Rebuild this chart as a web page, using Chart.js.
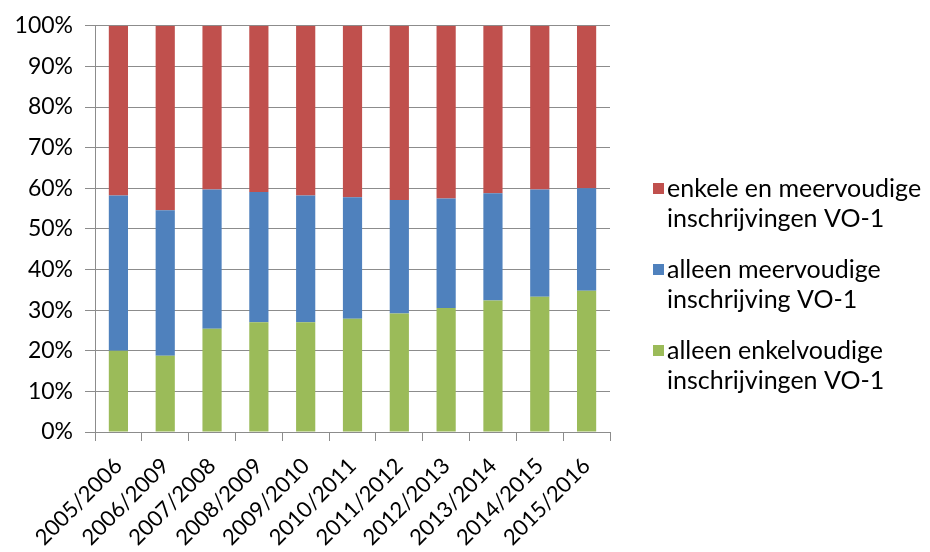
<!DOCTYPE html>
<html>
<head>
<meta charset="utf-8">
<script src="https://cdn.jsdelivr.net/npm/chart.js@4/dist/chart.umd.min.js"></script>
<style>
  html, body { margin: 0; padding: 0; background: #fff; }
  #wrap { width: 930px; height: 552px; }
</style>
</head>
<body>
<div id="wrap"><canvas id="chart"></canvas></div>
<script>
// schooljaren
const jaren = ["2005/2006", "2006/2009", "2007/2008", "2008/2009", "2009/2010",
  "2010/2011", "2011/2012", "2012/2013", "2013/2014", "2014/2015", "2015/2016"];

// aandelen in %
const alleenEnkel = [20.0, 18.8, 25.4, 27.0, 27.0, 27.9, 29.2, 30.5, 32.4, 33.3, 34.8];
const alleenMeer  = [38.2, 35.8, 34.3, 32.1, 31.2, 29.9, 27.9, 27.0, 26.4, 26.4, 25.2];
const enkelEnMeer = [41.8, 45.4, 40.3, 40.9, 41.8, 42.2, 42.9, 42.5, 41.2, 40.3, 40.0];

const yTicks = [0, 10, 20, 30, 40, 50, 60, 70, 80, 90, 100];

const FONT = "Lato";
const grijs = "#8c8c8c";

// legenda rechts, tekst op twee regels (zoals in Excel)
const legendaRechts = {
  id: "legendaRechts",
  afterDraw(chart) {
    const ctx = chart.ctx;
    const items = [
      { ds: 2, regels: ["enkele en meervoudige", "inschrijvingen VO-1"] },
      { ds: 1, regels: ["alleen meervoudige", "inschrijving VO-1"] },
      { ds: 0, regels: ["alleen enkelvoudige", "inschrijvingen VO-1"] }
    ];
    const x0 = 653;
    let y = 189;
    ctx.save();
    ctx.font = "25px " + FONT;
    ctx.textBaseline = "middle";
    items.forEach(it => {
      ctx.fillStyle = chart.data.datasets[it.ds].backgroundColor;
      ctx.fillRect(x0, y - 6, 11, 11);
      ctx.fillStyle = "#000";
      it.regels.forEach((t, i) => ctx.fillText(t, x0 + 14, y + i * 30));
      y += 81;
    });
    ctx.restore();
  }
};

new Chart(document.getElementById("chart"), {
  type: "bar",
  data: {
    labels: jaren,
    datasets: [
      { label: "alleen enkelvoudige inschrijvingen VO-1", data: alleenEnkel, backgroundColor: "#9BBB59" },
      { label: "alleen meervoudige inschrijving VO-1", data: alleenMeer, backgroundColor: "#4F81BD" },
      { label: "enkele en meervoudige inschrijvingen VO-1", data: enkelEnMeer, backgroundColor: "#C0504D" }
    ]
  },
  options: {
    responsive: true,
    maintainAspectRatio: false,
    animation: false,
    barPercentage: 0.41,
    categoryPercentage: 1.0,
    layout: { padding: { left: 0, right: 320, top: 25, bottom: 0 } },
    plugins: {
      legend: { display: false },
      tooltip: { enabled: false }
    },
    scales: {
      x: {
        stacked: true,
        grid: { drawOnChartArea: false, offset: true, tickLength: 9, color: grijs },
        border: { color: grijs },
        ticks: {
          font: { family: FONT, size: 22 },
          color: "#000",
          minRotation: 45,
          maxRotation: 45,
          padding: 12
        },
        afterFit(scale) { scale.height = 120; }
      },
      y: {
        stacked: true,
        min: 0,
        max: 100,
        grid: { color: grijs, tickLength: 10 },
        border: { color: grijs },
        afterBuildTicks(scale) { scale.ticks = yTicks.map(v => ({ value: v })); },
        ticks: {
          font: { family: FONT, size: 23 },
          color: "#000",
          padding: 12,
          callback: v => v + "%"
        },
        afterFit(scale) { scale.width = 95; }
      }
    }
  },
  plugins: [legendaRechts]
});
</script>
</body>
</html>
